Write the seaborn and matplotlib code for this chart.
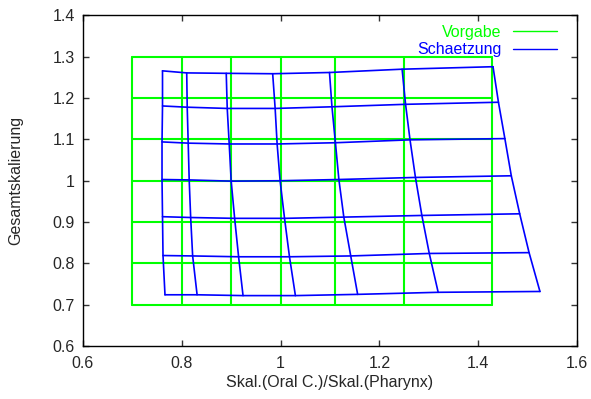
import numpy as np
import pandas as pd
import matplotlib
matplotlib.use("Agg")
from matplotlib import pyplot as plt
from matplotlib.ticker import FuncFormatter
from matplotlib.lines import Line2D
import seaborn as sns

# target grid (Vorgabe)
grid_x = [0.7, 0.8, 0.9, 1.0, 1.111, 1.25, 1.4286]
grid_y = [0.7, 0.8, 0.9, 1.0, 1.1, 1.2, 1.3]

# estimated grid (Schaetzung), rows from top (y~1.27) to bottom (y~0.72)
est_x = [
    [0.761, 0.810, 0.890, 0.984, 1.099, 1.246, 1.430],
    [0.761, 0.811, 0.892, 0.989, 1.104, 1.253, 1.441],
    [0.760, 0.813, 0.896, 0.993, 1.111, 1.262, 1.454],
    [0.760, 0.815, 0.900, 0.999, 1.118, 1.273, 1.467],
    [0.761, 0.818, 0.907, 1.008, 1.128, 1.286, 1.484],
    [0.762, 0.822, 0.915, 1.018, 1.142, 1.301, 1.503],
    [0.766, 0.831, 0.924, 1.030, 1.156, 1.319, 1.525],
]
est_y = [
    [1.266, 1.261, 1.260, 1.259, 1.262, 1.270, 1.276],
    [1.181, 1.178, 1.175, 1.175, 1.179, 1.185, 1.190],
    [1.094, 1.091, 1.089, 1.089, 1.092, 1.099, 1.102],
    [1.003, 1.002, 0.999, 1.000, 1.003, 1.008, 1.012],
    [0.913, 0.911, 0.909, 0.909, 0.912, 0.916, 0.920],
    [0.819, 0.818, 0.816, 0.816, 0.818, 0.824, 0.826],
    [0.724, 0.724, 0.722, 0.722, 0.725, 0.730, 0.732],
]

rows = []
# Vorgabe: horizontal and vertical lines of a regular grid
for i, yv in enumerate(grid_y):
    for xv in grid_x:
        rows.append(("Vorgabe", f"vh{i}", xv, yv))
for j, xv in enumerate(grid_x):
    for yv in grid_y:
        rows.append(("Vorgabe", f"vv{j}", xv, yv))
# Schaetzung: distorted grid
n = len(est_x)
for i in range(n):
    for j in range(n):
        rows.append(("Schaetzung", f"sh{i}", est_x[i][j], est_y[i][j]))
for j in range(n):
    for i in range(n):
        rows.append(("Schaetzung", f"sv{j}", est_x[i][j], est_y[i][j]))
df = pd.DataFrame(rows, columns=["kind", "line", "x", "y"])

sns.set_style("ticks")
plt.rcParams["font.family"] = ["Liberation Sans", "DejaVu Sans"]
plt.rcParams["xtick.direction"] = "in"
plt.rcParams["ytick.direction"] = "in"

fs = 11.5
fig = plt.figure(figsize=(5.91, 3.99), dpi=100)
ax = fig.add_axes([0.1404, 0.1328, 0.9763 - 0.1404, 0.9612 - 0.1328])

colors = {"Vorgabe": "#00ff00", "Schaetzung": "#0000ff"}
sns.lineplot(data=df[df.kind == "Vorgabe"], x="x", y="y", units="line",
             estimator=None, sort=False, color=colors["Vorgabe"], lw=1.5, ax=ax)
sns.lineplot(data=df[df.kind == "Schaetzung"], x="x", y="y", units="line",
             estimator=None, sort=False, color=colors["Schaetzung"], lw=1.2, ax=ax)

ax.set_xlim(0.6, 1.6)
ax.set_ylim(0.6, 1.4)
ax.set_xticks(np.arange(0.6, 1.61, 0.2))
ax.set_yticks(np.arange(0.6, 1.41, 0.1))
fmt = FuncFormatter(lambda v, p: "%g" % round(v, 2))
ax.xaxis.set_major_formatter(fmt)
ax.yaxis.set_major_formatter(fmt)
ax.tick_params(top=True, right=True, length=4.3, width=1, labelsize=fs,
               color="#333333", pad=6)
ax.tick_params(axis="x", pad=7)
for s in ax.spines.values():
    s.set_linewidth(1.0)
    s.set_color("black")

ax.set_xlabel("Skal.(Oral C.)/Skal.(Pharynx)", fontsize=fs, labelpad=3)
ax.set_ylabel("Gesamtskalierung", fontsize=fs, labelpad=21)

handles = [Line2D([], [], color=colors["Vorgabe"], lw=1),
           Line2D([], [], color=colors["Schaetzung"], lw=1)]
leg = ax.legend(handles, ["Vorgabe", "Schaetzung"], loc="upper right",
                bbox_to_anchor=(0.960, 0.972), frameon=False, markerfirst=False,
                fontsize=fs, handlelength=2.8, handletextpad=0.68,
                labelspacing=0.15, borderpad=0, borderaxespad=0)
for t, c in zip(leg.get_texts(), ["#00ff00", "#0000ff"]):
    t.set_color(c)

fig.savefig("out.png", dpi=100)
